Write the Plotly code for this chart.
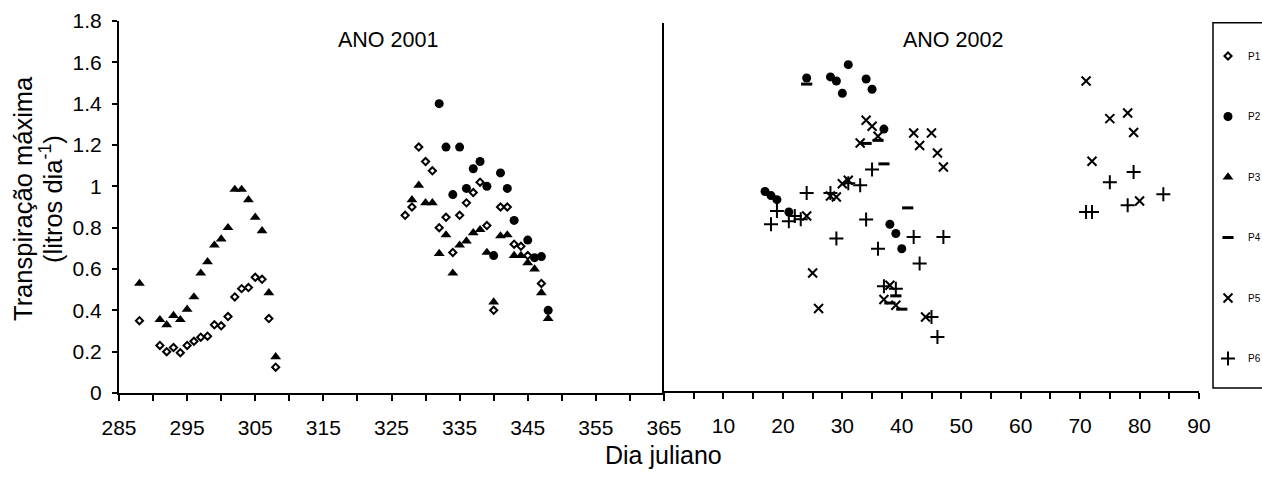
import plotly.graph_objects as go

# ---------------- data ----------------
# ANO 2001 (Dia juliano 285-365)
p1_2001_days = [288, 291, 292, 293, 294, 295, 296, 297, 298, 299, 300, 301, 302, 303, 304, 305, 306, 307, 308,
                327, 328, 329, 330, 331, 332, 333, 334, 335, 336, 337, 338, 339, 340, 341, 342, 343, 344, 345, 347]
p1_2001_vals = [0.35, 0.23, 0.20, 0.22, 0.195, 0.23, 0.25, 0.27, 0.275, 0.33, 0.325, 0.37, 0.465, 0.505, 0.51, 0.56, 0.55, 0.36, 0.125,
                0.86, 0.90, 1.19, 1.12, 1.075, 0.80, 0.85, 0.68, 0.86, 0.92, 0.97, 1.02, 0.81, 0.40, 0.90, 0.90, 0.72, 0.71, 0.665, 0.53]

p2_2001_days = [332, 333, 334, 335, 336, 337, 338, 339, 340, 341, 342, 343, 345, 346, 347, 348]
p2_2001_vals = [1.40, 1.19, 0.96, 1.19, 0.99, 1.085, 1.12, 1.00, 0.665, 1.065, 0.99, 0.835, 0.74, 0.655, 0.66, 0.40]

p3_2001_days = [288, 291, 292, 293, 294, 295, 296, 297, 298, 299, 300, 301, 302, 303, 304, 305, 306, 307, 308,
                328, 329, 330, 331, 332, 333, 334, 335, 336, 337, 338, 339, 340, 341, 342, 343, 344, 345, 346, 347, 348]
p3_2001_vals = [0.53, 0.355, 0.33, 0.375, 0.355, 0.405, 0.465, 0.58, 0.635, 0.715, 0.745, 0.80, 0.985, 0.985, 0.935, 0.85, 0.785, 0.485, 0.175,
                0.935, 1.005, 0.92, 0.92, 0.675, 0.765, 0.58, 0.715, 0.735, 0.775, 0.79, 0.68, 0.44, 0.76, 0.765, 0.665, 0.665, 0.63, 0.60, 0.485, 0.36]

# ANO 2002 (Dia juliano 0-90)
p2_2002_days = [17, 18, 19, 21, 24, 28, 29, 30, 31, 34, 35, 37, 38, 39, 40]
p2_2002_vals = [0.975, 0.955, 0.935, 0.875, 1.53, 1.535, 1.515, 1.455, 1.595, 1.525, 1.475, 1.28, 0.815, 0.77, 0.695]

p4_2002_days = [24, 34, 36, 37, 38, 39, 40, 41]
p4_2002_vals = [1.50, 1.21, 1.225, 1.11, 0.43, 0.465, 0.40, 0.895]

p5_2002_days = [24, 25, 26, 28, 29, 30, 31, 33, 34, 35, 36, 37, 38, 39, 42, 43, 44, 45, 46, 47, 71, 72, 75, 78, 79, 80]
p5_2002_vals = [0.855, 0.577, 0.403, 0.953, 0.948, 1.013, 1.03, 1.212, 1.323, 1.294, 1.245, 0.447, 0.517, 0.419,
                1.261, 1.20, 0.362, 1.261, 1.163, 1.095, 1.515, 1.123, 1.331, 1.359, 1.263, 0.929]

p6_2002_days = [18, 19, 21, 22, 23, 24, 28, 29, 31, 33, 34, 35, 36, 37, 39, 42, 43, 45, 46, 47, 71, 72, 75, 78, 79, 84]
p6_2002_vals = [0.815, 0.88, 0.83, 0.855, 0.84, 0.968, 0.968, 0.745, 1.015, 1.005, 0.838, 1.082, 0.695, 0.512, 0.50,
                0.753, 0.623, 0.362, 0.264, 0.753, 0.875, 0.875, 1.02, 0.908, 1.07, 0.961]

x1_ticks = list(range(285, 366, 10))
x2_ticks = list(range(10, 91, 10))
y_ticks = [0, 0.2, 0.4, 0.6, 0.8, 1.0, 1.2, 1.4, 1.6, 1.8]
y_labels = ["0", "0.2", "0.4", "0.6", "0.8", "1", "1.2", "1.4", "1.6", "1.8"]

# ---------------- figure ----------------
FONT = "Liberation Sans, Arial, sans-serif"
W, H = 1262, 480
ML, MR, MT, MB = 119, 63, 21, 87
PW, PH = W - ML - MR, H - MT - MB
split = (664 - ML) / PW


def px_x(p):
    return (p - ML) / PW


def px_y(p):
    return (H - MB - p) / PH


fig = go.Figure()


def add(name, x, y, xa, ya, marker, show):
    fig.add_trace(go.Scatter(
        x=x, y=y, mode="markers", name=name, legendgroup=name, showlegend=show,
        xaxis=xa, yaxis=ya, marker=marker, cliponaxis=False))


m_p1 = dict(symbol="diamond-open", size=5.5, color="black", line=dict(width=2, color="black"))
m_p2 = dict(symbol="circle", size=9, color="black", line=dict(width=0))
m_p3 = dict(symbol="triangle-up", size=9.5, color="black", line=dict(width=0))
m_p4 = dict(symbol="line-ew", size=8, color="black", line=dict(width=3, color="black"))
m_p5 = dict(symbol="x-thin", size=9, color="black", line=dict(width=2, color="black"))
m_p6 = dict(symbol="cross-thin", size=10, color="black", line=dict(width=2, color="black"))

add("P1", p1_2001_days, p1_2001_vals, "x", "y", m_p1, True)
add("P2", p2_2001_days, p2_2001_vals, "x", "y", m_p2, True)
add("P2", p2_2002_days, p2_2002_vals, "x2", "y2", m_p2, False)
add("P3", p3_2001_days, p3_2001_vals, "x", "y", m_p3, True)
add("P4", p4_2002_days, p4_2002_vals, "x2", "y2", m_p4, True)
add("P5", p5_2002_days, p5_2002_vals, "x2", "y2", m_p5, True)
add("P6", p6_2002_days, p6_2002_vals, "x2", "y2", m_p6, True)

axis_common = dict(showgrid=False, zeroline=False, showline=True, linecolor="black", linewidth=2,
                   tickcolor="black", tickwidth=2, tickfont=dict(family=FONT, size=21, color="black"))

txt = dict(xref="paper", yref="paper", showarrow=False, xanchor="center", yanchor="middle")

fig.update_layout(
    width=W, height=H,
    margin=dict(l=ML, r=MR, t=MT, b=MB, autoexpand=False),
    paper_bgcolor="white", plot_bgcolor="white",
    font=dict(family=FONT, color="black"),
    xaxis=dict(domain=[0, split], range=[285, 365], tickvals=x1_ticks, ticks="outside", ticklen=6,
               minor=dict(tick0=285, dtick=5, ticks="outside", ticklen=6, tickwidth=2, tickcolor="black"),
               anchor="y", ticklabelstandoff=9, **axis_common),
    yaxis=dict(domain=[0, 1], range=[0, 1.8], tickvals=y_ticks, ticktext=y_labels, ticks="outside", ticklen=5,
               anchor="x", ticklabelstandoff=6, **axis_common),
    xaxis2=dict(domain=[split, 1], range=[0, 90], tickvals=x2_ticks, ticks="outside", ticklen=6,
                minor=dict(tick0=0, dtick=5, ticks="outside", ticklen=6, tickwidth=2, tickcolor="black"),
                anchor="y2", ticklabelstandoff=9, **axis_common),
    yaxis2=dict(domain=[px_y(391), px_y(22.7)], range=[0, 1.8], anchor="x2", ticks="",
                showticklabels=False, **axis_common),
    yaxis3=dict(overlaying="y2", side="right", anchor="x2", range=[0, 1.8], tickvals=y_ticks,
                ticks="outside", ticklen=3, showticklabels=False, **axis_common),
    yaxis4=dict(overlaying="y2", side="right", anchor="x2", range=[0, 1.8], tickvals=y_ticks,
                ticks="inside", ticklen=3, showticklabels=False, **axis_common),
    legend=dict(x=px_x(1208), xanchor="left", y=px_y(41.5), yanchor="top",
                borderwidth=0, bgcolor="rgba(0,0,0,0)",
                font=dict(family=FONT, size=10, color="black"),
                tracegroupgap=41.5),
    shapes=[
        dict(type="rect", xref="paper", yref="paper", x0=px_x(1213), x1=px_x(1290),
             y0=px_y(388), y1=px_y(22.7), line=dict(color="black", width=1.5), layer="below"),
    ],
    annotations=[
        dict(text="ANO 2001", x=px_x(388), y=px_y(40), font=dict(family=FONT, size=21.5, color="black"), **txt),
        dict(text="ANO 2002", x=px_x(953), y=px_y(40), font=dict(family=FONT, size=21.5, color="black"), **txt),
        dict(text="Dia juliano", x=px_x(663), y=px_y(455), font=dict(family=FONT, size=25, color="black"), **txt),
        dict(text="Transpiração máxima", x=px_x(23), y=px_y(199), textangle=-90,
             font=dict(family=FONT, size=25.5, color="black"), **txt),
        dict(text="(litros dia<sup>-1</sup>)", x=px_x(51), y=px_y(199), textangle=-90,
             font=dict(family=FONT, size=25.5, color="black"), **txt),
    ],
)

fig.write_html("out.html")
